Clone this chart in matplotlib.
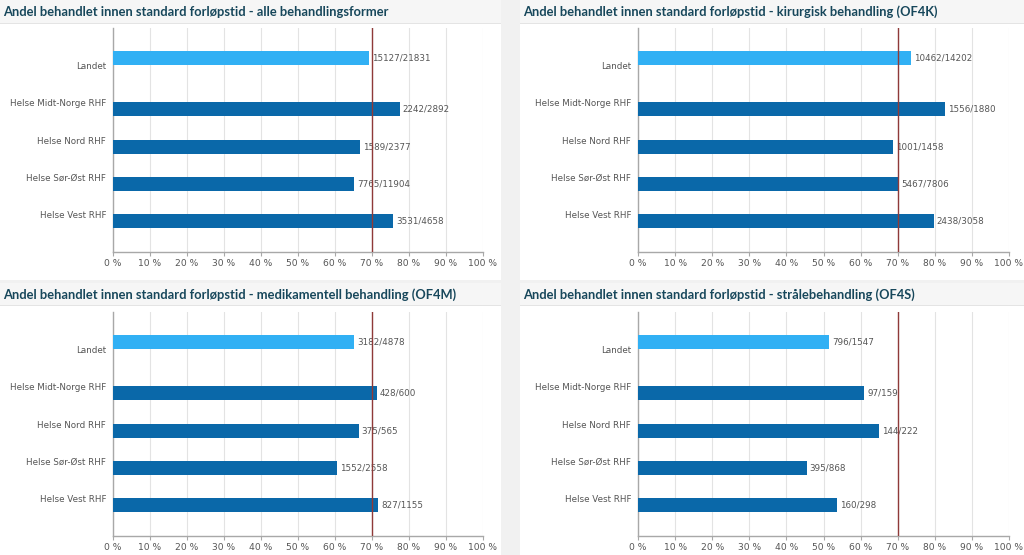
import matplotlib
matplotlib.use("Agg")
import matplotlib.pyplot as plt
from matplotlib.patches import Rectangle

categories = ["Landet", "Helse Midt-Norge RHF", "Helse Nord RHF", "Helse Sør-Øst RHF", "Helse Vest RHF"]

titles = [
    "Andel behandlet innen standard forløpstid - alle behandlingsformer",
    "Andel behandlet innen standard forløpstid - kirurgisk behandling (OF4K)",
    "Andel behandlet innen standard forløpstid - medikamentell behandling (OF4M)",
    "Andel behandlet innen standard forløpstid - strålebehandling (OF4S)",
]

num_alle = [15127, 2242, 1589, 7765, 3531]
den_alle = [21831, 2892, 2377, 11904, 4658]
num_of4k = [10462, 1556, 1001, 5467, 2438]
den_of4k = [14202, 1880, 1458, 7806, 3058]
num_of4m = [3182, 428, 375, 1552, 827]
den_of4m = [4878, 600, 565, 2558, 1155]
num_of4s = [796, 97, 144, 395, 160]
den_of4s = [1547, 159, 222, 868, 298]

target = 70
x_ticks = [0, 10, 20, 30, 40, 50, 60, 70, 80, 90, 100]
x_ticklabels = [f"{t} %" for t in x_ticks]

panels = [
    (num_alle, den_alle),
    (num_of4k, den_of4k),
    (num_of4m, den_of4m),
    (num_of4s, den_of4s),
]

W, H = 1024, 555
fig = plt.figure(figsize=(W / 100, H / 100), dpi=100)
fig.patch.set_facecolor("#f1f1f1")

def fx(px):
    return px / W

def fy(py):
    return 1 - py / H

# panel geometry in pixels
geoms = [
    (0, 501, 0, 23, 280, 113, 483, 28, 252),
    (520, 1024, 0, 23, 280, 638, 1009, 28, 252),
    (0, 501, 283, 305, 555, 113, 483, 312, 536),
    (520, 1024, 283, 305, 555, 638, 1009, 312, 536),
]

light = "#31b0f4"
dark = "#0a68a9"

for (nums, dens), title, g in zip(panels, titles, geoms):
    pl, pr, bt, bb, pb, al, ar, at, ab = g
    fig.patches.append(Rectangle((fx(pl), fy(pb)), fx(pr - pl), (pb - bb) / H,
                                 transform=fig.transFigure, facecolor="white",
                                 edgecolor="none", zorder=-10))
    fig.patches.append(Rectangle((fx(pl), fy(bb)), fx(pr - pl), (bb - bt) / H,
                                 transform=fig.transFigure, facecolor="#f6f6f6",
                                 edgecolor="none", zorder=-10))
    fig.patches.append(Rectangle((fx(pl), fy(bb + 1)), fx(pr - pl), 1.2 / H,
                                 transform=fig.transFigure, facecolor="#e4e4e4",
                                 edgecolor="none", zorder=-9))
    fig.text(fx(pl + 3), fy((bt + bb) / 2 + 0.5), title, fontsize=9.25, fontweight="bold",
             color="#17475b", family="Lato", va="center", ha="left")

    ax = fig.add_axes([fx(al), fy(ab), fx(ar - al), (ab - at) / H])
    ax.set_facecolor("none")
    pct = [n / d * 100 for n, d in zip(nums, dens)]
    ypos = list(range(len(categories)))
    for i, (p, n, d) in enumerate(zip(pct, nums, dens)):
        off = -0.2 if i == 0 else 0.18
        col = light if i == 0 else dark
        ax.barh(i + off, p, height=0.375, color=col, zorder=3)
        ax.text(p + 0.8, i + off, f"{n}/{d}", va="center", ha="left",
                fontsize=6.3, color="#555555", zorder=4)
    ax.axvline(target, color="#8f3a38", lw=1, zorder=5)
    ax.set_xlim(0, 100)
    ax.set_ylim(5, -1)
    ax.set_yticks(ypos)
    ax.set_yticklabels(categories)
    ax.set_xticks(x_ticks)
    ax.set_xticklabels(x_ticklabels)
    ax.grid(axis="x", color="#e3e3e3", lw=0.8, zorder=0)
    ax.set_axisbelow(True)
    for s in ["top", "right"]:
        ax.spines[s].set_visible(False)
    for s in ["left", "bottom"]:
        ax.spines[s].set_color("#a8a8a8")
        ax.spines[s].set_linewidth(1)
    ax.tick_params(axis="y", length=0, pad=5, labelsize=6.3, labelcolor="#555555")
    ax.tick_params(axis="x", length=3, color="#a8a8a8", pad=2, labelsize=6.6,
                   labelcolor="#555555")

fig.savefig("out.png", dpi=100, facecolor=fig.get_facecolor())
